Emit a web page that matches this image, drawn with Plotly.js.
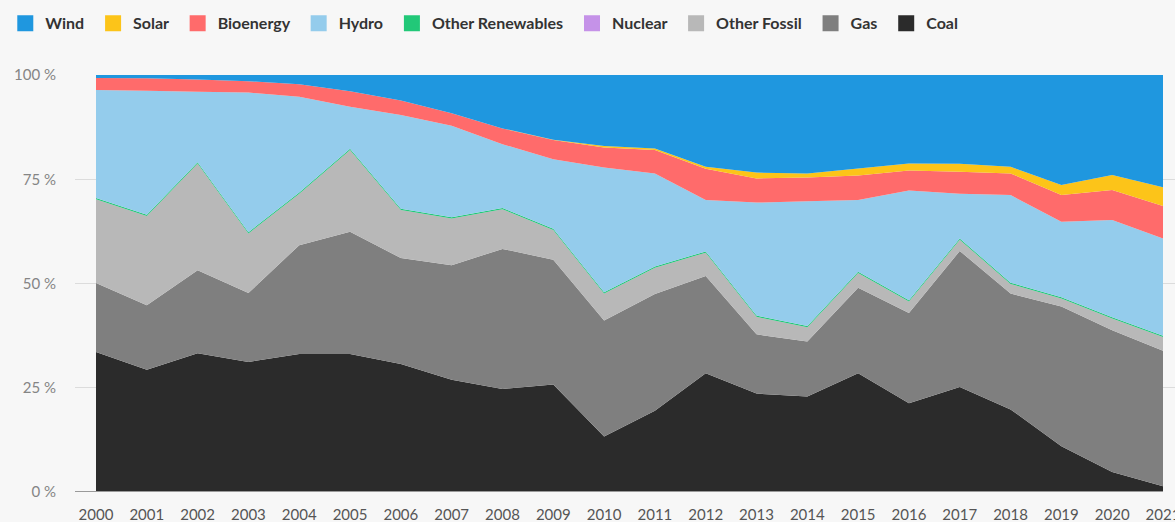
<!DOCTYPE html>
<html>
<head>
<meta charset="utf-8">
<script src="https://cdn.plot.ly/plotly-3.0.1.min.js"></script>
<style>
  html, body { margin: 0; padding: 0; background: #f7f7f7; }
  #chart { width: 1175px; height: 522px; }
</style>
</head>
<body>
<div id="chart"></div>
<script>
// Years
var years = [2000,2001,2002,2003,2004,2005,2006,2007,2008,2009,2010,2011,2012,2013,2014,2015,2016,2017,2018,2019,2020,2021];

// Share of generation (%) per source
var coal           = [33.6,29.3,33.3,31.2,33.1,33.1,30.7,26.9,24.7,25.8,13.3,19.5,28.5,23.6,22.9,28.5,21.3,25.2,19.8,11.0, 4.8, 1.4];
var gas            = [16.5,15.5,19.9,16.5,26.1,29.3,25.4,27.5,33.6,29.9,27.8,28.0,23.3,14.2,13.2,20.5,21.6,32.6,27.8,33.5,34.0,32.5];
var otherFossil    = [20.1,21.4,25.6,14.3,12.3,19.6,11.5,11.2, 9.5, 7.1, 6.5, 6.3, 5.6, 4.2, 3.4, 3.5, 2.8, 2.7, 2.3, 1.9, 2.8, 3.3];
var nuclear        = [0,0,0,0,0,0,0,0,0,0,0,0,0,0,0,0,0,0,0,0,0,0];
var otherRenew     = [0.3,0.3,0.3,0.3,0.3,0.3,0.3,0.3,0.3,0.3,0.3,0.3,0.3,0.3,0.3,0.3,0.3,0.3,0.3,0.3,0.3,0.3];
var hydro          = [25.9,29.7,16.9,33.5,23.0,10.1,22.5,21.9,15.3,16.7,29.9,22.3,12.3,27.1,29.9,17.2,26.3,10.7,21.0,18.1,23.3,23.3];
var bioenergy      = [ 2.9, 3.0, 2.9, 2.7, 3.0, 3.7, 3.5, 3.0, 3.8, 4.6, 4.8, 5.6, 7.5, 5.8, 5.7, 5.9, 4.8, 5.3, 5.2, 6.4, 7.2, 7.8];
var solar          = [ 0.0, 0.0, 0.0, 0.0, 0.0, 0.0, 0.0, 0.0, 0.0, 0.1, 0.4, 0.4, 0.5, 1.4, 1.0, 1.7, 1.7, 1.9, 1.6, 2.4, 3.6, 4.5];
var wind           = [ 0.7, 0.8, 1.1, 1.5, 2.2, 3.9, 6.1, 9.2,12.8,15.5,17.0,17.6,22.0,23.4,23.6,22.4,21.2,21.3,22.0,26.4,24.0,26.9];

var yTickVals = [0, 25, 50, 75, 100];
var yTickText = ['0 %', '25 %', '50 %', '75 %', '100 %'];

// Series in stacking order (bottom first)
var seriesNames  = ['Coal','Gas','Other Fossil','Nuclear','Other Renewables','Hydro','Bioenergy','Solar','Wind'];
var seriesValues = [coal, gas, otherFossil, nuclear, otherRenew, hydro, bioenergy, solar, wind];
var seriesColors = ['#2b2b2b','#7f7f7f','#b8b8b8','#c592e8','#22c878','#94ccec','#ff6b6b','#fcc419','#1f97df'];

// Legend order (as shown)
var legendOrder = ['Wind','Solar','Bioenergy','Hydro','Other Renewables','Nuclear','Other Fossil','Gas','Coal'];

var traces = [];
for (var i = 0; i < seriesNames.length; i++) {
  traces.push({
    type: 'scatter',
    x: years,
    y: seriesValues[i],
    name: seriesNames[i],
    stackgroup: 'one',
    groupnorm: i === 0 ? 'percent' : undefined,
    mode: 'none',
    fillcolor: seriesColors[i],
    line: { width: 0 },
    showlegend: false,
    hoverinfo: 'x+y+name'
  });
}
// legend-only entries with square swatches
for (var j = 0; j < legendOrder.length; j++) {
  var idx = seriesNames.indexOf(legendOrder[j]);
  traces.push({
    type: 'scatter',
    x: [null],
    y: [null],
    name: legendOrder[j] + '\u00a0',
    mode: 'markers',
    marker: { symbol: 'square', size: 16, color: seriesColors[idx] },
    showlegend: true,
    hoverinfo: 'skip'
  });
}

var pxPerYear = (1163 - 96) / 21;
var xMin = years[0] - (96 - 75) / pxPerYear;
var xMax = years[years.length - 1] + (1175 - 1163) / pxPerYear;

var layout = {
  width: 1175,
  height: 522,
  paper_bgcolor: '#f7f7f7',
  plot_bgcolor: '#f7f7f7',
  margin: { l: 75, r: 0, t: 75, b: 30, pad: 0 },
  font: { family: 'Lato, "Open Sans", sans-serif', size: 15, color: '#555' },
  showlegend: true,
  legend: {
    orientation: 'h',
    xref: 'container', yref: 'container',
    x: 0.0045, y: 0.988,
    xanchor: 'left', yanchor: 'top',
    font: { family: 'Lato, sans-serif', size: 16, color: '#333', weight: 'bold' },
    bgcolor: 'rgba(0,0,0,0)',
    itemwidth: 30,
    traceorder: 'normal'
  },
  xaxis: {
    range: [xMin, xMax],
    tickvals: years,
    ticktext: years.map(String),
    showgrid: false,
    zeroline: false,
    showline: false,
    ticks: '',
    ticklabelstandoff: 12,
    ticklabeloverflow: 'allow',
    tickfont: { family: 'Lato, sans-serif', size: 15, color: '#555' },
    fixedrange: true
  },
  yaxis: {
    range: [0, 100],
    tickvals: yTickVals,
    ticktext: yTickText,
    showgrid: true,
    gridcolor: '#dcdcdc',
    gridwidth: 1,
    zeroline: false,
    showline: false,
    ticks: '',
    ticklabelstandoff: 18,
    tickfont: { family: 'Lato, sans-serif', size: 15, color: '#858585' },
    fixedrange: true
  },
  shapes: [{
    type: 'line', xref: 'x', yref: 'y',
    x0: xMin, x1: years[years.length - 1], y0: 0, y1: 0,
    line: { color: '#9a9a9a', width: 2 },
    layer: 'above'
  }]
};

Plotly.newPlot('chart', traces, layout, { displayModeBar: false, staticPlot: true });
</script>
</body>
</html>
